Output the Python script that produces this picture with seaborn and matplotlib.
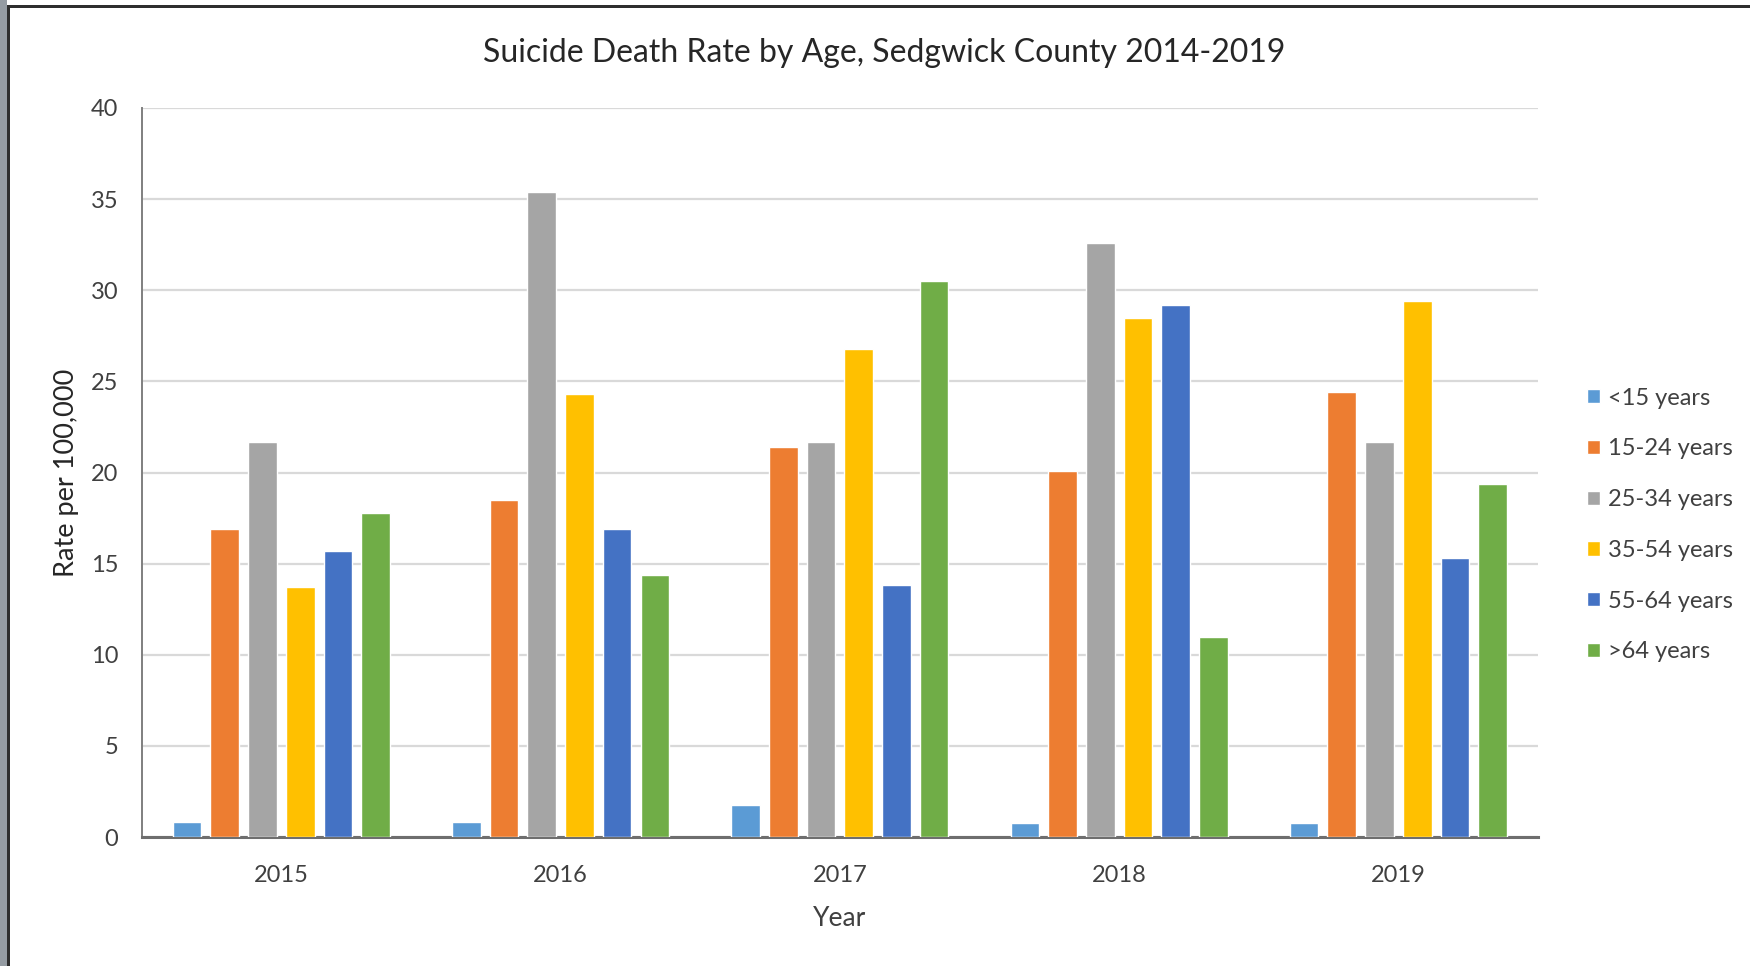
import matplotlib
matplotlib.use("Agg")
import matplotlib.pyplot as plt
from matplotlib.patches import Rectangle
import pandas as pd
import seaborn as sns

# Suicide death rate per 100,000 by age group and year
years = ["2015", "2016", "2017", "2018", "2019"]
age_groups = ["<15 years", "15-24 years", "25-34 years", "35-54 years", "55-64 years", ">64 years"]
under_15 = [0.8, 0.8, 1.75, 0.75, 0.75]
age_15_24 = [16.9, 18.5, 21.4, 20.1, 24.4]
age_25_34 = [21.7, 35.4, 21.7, 32.6, 21.7]
age_35_54 = [13.7, 24.3, 26.8, 28.5, 29.4]
age_55_64 = [15.7, 16.9, 13.8, 29.2, 15.3]
over_64 = [17.8, 14.4, 30.5, 11.0, 19.35]
y_ticks = [0, 5, 10, 15, 20, 25, 30, 35, 40]

colors = ["#5B9BD5", "#ED7D31", "#A5A5A5", "#FFC000", "#4472C4", "#70AD47"]

series = [under_15, age_15_24, age_25_34, age_35_54, age_55_64, over_64]
rows = []
for group, values in zip(age_groups, series):
    for yr, v in zip(years, values):
        rows.append({"Year": yr, "Age": group, "Rate": v})
df = pd.DataFrame(rows)

sns.set_style("white")
plt.rcParams["font.family"] = ["Lato", "DejaVu Sans"]

W, H = 1750, 966
fig = plt.figure(figsize=(W / 100, H / 100), dpi=100)
fig.patch.set_facecolor("white")

# window frame around the chart
fig.patches.append(Rectangle((0, 0), 7 / W, 1, transform=fig.transFigure,
                             facecolor="#959CA3", edgecolor="none", zorder=0))
fig.patches.append(Rectangle((7 / W, 0), 2.5 / W, 1 - 5 / H, transform=fig.transFigure,
                             facecolor="#2E2E2E", edgecolor="none", zorder=0))
fig.patches.append(Rectangle((7 / W, 1 - 7.5 / H), 1, 2.5 / H, transform=fig.transFigure,
                             facecolor="#2E2E2E", edgecolor="none", zorder=0))

left, right, top, bottom = 141.7, 1538, 108, 837
ax = fig.add_axes([left / W, 1 - bottom / H, (right - left) / W, (bottom - top) / H])

sns.barplot(data=df, x="Year", y="Rate", hue="Age", order=years, hue_order=age_groups,
            palette=colors, width=0.81, gap=0.24, saturation=1, errorbar=None, ax=ax,
            zorder=3)

ax.set_ylim(0, 40)
ax.set_yticks(y_ticks)
ax.yaxis.grid(True, color="#D9D9D9", linewidth=1.6, zorder=0)
ax.set_axisbelow(True)
for s in ["top", "right"]:
    ax.spines[s].set_visible(False)
ax.spines["left"].set_color("#7F7F7F")
ax.spines["left"].set_linewidth(1.4)
ax.spines["bottom"].set_color("#6E6E6E")
ax.spines["bottom"].set_linewidth(2.2)
ax.tick_params(axis="both", length=0, labelsize=17, colors="#404040")
ax.tick_params(axis="y", pad=17)
ax.tick_params(axis="x", pad=20.5)

ax.set_xlabel("Year", fontsize=19, color="#404040")
ax.set_ylabel("Rate per 100,000", fontsize=19.5, color="#262626")
ax.xaxis.set_label_coords(0.5, (bottom - 906) / (bottom - top))
ax.yaxis.set_label_coords((79 - left) / (right - left), 0.5)

fig.text(884 / W, 1 - 53 / H, "Suicide Death Rate by Age, Sedgwick County 2014-2019",
         ha="center", va="center", fontsize=23, color="#262626")

handles, labels = ax.get_legend_handles_labels()
ax.legend(handles, labels, loc="center left",
          bbox_to_anchor=(1566 / W, 1 - 525 / H), bbox_transform=fig.transFigure,
          frameon=False, fontsize=17, handlelength=0.55, handleheight=0.55,
          handletextpad=0.35, labelspacing=1.26, labelcolor="#404040")

fig.savefig("out.png", dpi=100, facecolor="white")
